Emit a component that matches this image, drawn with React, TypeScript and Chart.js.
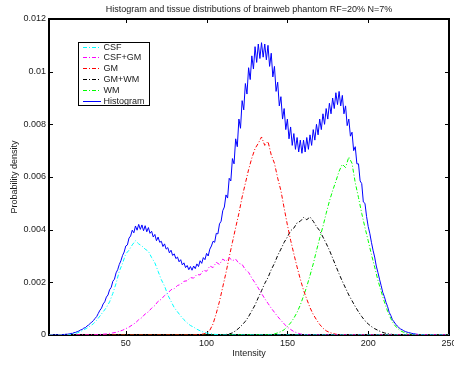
import React, { useEffect, useRef } from "react";
import { Chart, registerables } from "chart.js";

Chart.register(...registerables);

const TITLE = "Histogram and tissue distributions of brainweb phantom RF=20% N=7%";
const X_TITLE = "Intensity";
const Y_TITLE = "Probability density";

const X_MIN = 2.5;
const X_MAX = 250;
const X_TICKS = [50, 100, 150, 200, 250];
const X_TICK_LABELS = ["50", "100", "150", "200", "250"];
const Y_TICKS = [0, 0.002, 0.004, 0.006, 0.008, 0.01, 0.012];
const Y_TICK_LABELS = ["0", "0.002", "0.004", "0.006", "0.008", "0.01", "0.012"];

// Histogram: one value per intensity, starting at HIST_START
const HIST_START = 3;
const histogram = [
  0, 0, 0, 0, 0.00001, 0, 0.00001, 0.00001, 0.00002, 0.00002,
  0.00003, 0.00003, 0.00004, 0.00006, 0.00006, 0.00009, 0.0001, 0.00013, 0.00015, 0.00019,
  0.00021, 0.00026, 0.00028, 0.00034, 0.00038, 0.00044, 0.00049, 0.00055, 0.00063, 0.0007,
  0.00082, 0.00094, 0.00102, 0.00118, 0.00126, 0.00144, 0.00152, 0.00172, 0.00181, 0.00204,
  0.00212, 0.00236, 0.00248, 0.00268, 0.00282, 0.00302, 0.00315, 0.00338, 0.00342, 0.00368,
  0.00376, 0.00398, 0.00388, 0.00414, 0.00398, 0.0042, 0.00401, 0.00418, 0.00396, 0.00415,
  0.00392, 0.00408, 0.00386, 0.00394, 0.00372, 0.00382, 0.00358, 0.00372, 0.00352, 0.00356,
  0.00336, 0.00346, 0.00326, 0.00332, 0.00312, 0.00322, 0.00302, 0.00308, 0.0029, 0.00296,
  0.00278, 0.00286, 0.00266, 0.00274, 0.00256, 0.00264, 0.00248, 0.0026, 0.00246, 0.00262,
  0.00252, 0.0027, 0.0026, 0.00282, 0.00272, 0.00294, 0.00286, 0.0031, 0.003, 0.00326,
  0.00338, 0.00356, 0.00352, 0.00386, 0.00384, 0.00422, 0.00432, 0.00472, 0.00486, 0.00532,
  0.0052, 0.00595, 0.00585, 0.0067, 0.0065, 0.00745, 0.00715, 0.0082, 0.00785, 0.0089,
  0.00855, 0.00955, 0.00915, 0.01015, 0.0097, 0.0106, 0.0101, 0.01095, 0.01035, 0.01105,
  0.0105, 0.0111, 0.01055, 0.01105, 0.01045, 0.011, 0.0102, 0.0107, 0.0098, 0.0102,
  0.00925, 0.0096, 0.0087, 0.00905, 0.0082, 0.0086, 0.0078, 0.0082, 0.00745, 0.0079,
  0.0072, 0.00765, 0.00705, 0.0075, 0.00695, 0.0074, 0.0069, 0.0074, 0.00695, 0.0075,
  0.00705, 0.0076, 0.0072, 0.0078, 0.0074, 0.008, 0.0076, 0.0082, 0.0078, 0.0084,
  0.008, 0.0086, 0.0082, 0.0088, 0.0084, 0.009, 0.0086, 0.0092, 0.00875, 0.00925,
  0.0087, 0.0091, 0.0084, 0.0087, 0.00795, 0.0082, 0.00755, 0.0077, 0.007, 0.00715,
  0.0065, 0.0065, 0.00585, 0.00575, 0.00505, 0.005, 0.0045, 0.00412, 0.00386, 0.00352,
  0.00322, 0.00296, 0.00262, 0.00238, 0.00212, 0.00188, 0.00162, 0.00146, 0.00124, 0.00108,
  0.00086, 0.00074, 0.00058, 0.0005, 0.00041, 0.00034, 0.00028, 0.00023, 0.0002, 0.00016,
  0.00013, 0.00011, 0.00009, 0.00008, 0.00006, 0.00005, 0.00004, 0.00003, 0.00002, 0.00002,
  0.00001, 0.00001, 0.00001, 0.00001, 0, 0.00001, 0, 0, 0, 0,
  0, 0, 0, 0, 0, 0, 0, 0,
];

// Tissue distributions: sampled every COMPONENT_STEP intensities from their start value,
// zero outside the listed range
const COMPONENT_STEP = 2;

const csfStart = 14;
const csf = [
  0, 0.00002, 0.00005, 0.00008, 0.00013, 0.0002, 0.00026, 0.00034, 0.00043, 0.00056,
  0.00072, 0.00088, 0.00104, 0.00126, 0.00158, 0.00196, 0.00242, 0.00272, 0.00308, 0.00322,
  0.00342, 0.00358, 0.00346, 0.00338, 0.00326, 0.00318, 0.00294, 0.00274, 0.00242, 0.0021,
  0.00186, 0.00152, 0.00128, 0.00104, 0.00088, 0.00072, 0.00058, 0.00046, 0.00036, 0.0003,
  0.00022, 0.00016, 0.00011, 0.00008, 0.00006, 0.00003, 0.00002, 0.00001, 0,
];

const csfGmStart = 30;
const csfGm = [
  0, 0.00001, 0.00002, 0.00003, 0.00004, 0.00006, 0.00008, 0.0001, 0.00014, 0.00018,
  0.00024, 0.0003, 0.00038, 0.00046, 0.00058, 0.00066, 0.0008, 0.00088, 0.00102, 0.00112,
  0.00128, 0.00136, 0.0015, 0.00158, 0.00172, 0.00176, 0.00188, 0.00192, 0.00204, 0.00206,
  0.00218, 0.00216, 0.0023, 0.00228, 0.00246, 0.00242, 0.00262, 0.00256, 0.00276, 0.00268,
  0.00288, 0.0028, 0.00294, 0.00282, 0.00288, 0.00272, 0.00268, 0.00248, 0.00238, 0.00216,
  0.00198, 0.00178, 0.00158, 0.00138, 0.0012, 0.00102, 0.00086, 0.0007, 0.00056, 0.00042,
  0.0003, 0.00021, 0.00013, 0.00008, 0.00004, 0.00002, 0.00001, 0,
];

const gmStart = 92;
const gm = [
  0, 0.00001, 0.00002, 0.00004, 0.00008, 0.00018, 0.00042, 0.00082, 0.00128, 0.00182,
  0.00236, 0.00296, 0.00352, 0.00408, 0.00462, 0.00524, 0.00576, 0.00628, 0.00672, 0.00708,
  0.00728, 0.00752, 0.0072, 0.00735, 0.00684, 0.00652, 0.00596, 0.00548, 0.00482, 0.00418,
  0.0036, 0.00308, 0.00258, 0.00212, 0.0017, 0.00136, 0.00104, 0.00078, 0.00058, 0.0004,
  0.00026, 0.00016, 0.0001, 0.00006, 0.00003, 0.00001, 0,
];

const gmWmStart = 108;
const gmWm = [
  0, 0.00001, 0.00002, 0.00004, 0.00008, 0.00016, 0.00026, 0.00038, 0.00052, 0.0007,
  0.00092, 0.00114, 0.00142, 0.00168, 0.00196, 0.00218, 0.00248, 0.00272, 0.00302, 0.00326,
  0.00352, 0.00372, 0.00396, 0.00406, 0.00426, 0.00432, 0.00446, 0.00438, 0.00448, 0.00432,
  0.00412, 0.00396, 0.00372, 0.00348, 0.00322, 0.00292, 0.00262, 0.00232, 0.00204, 0.00178,
  0.00152, 0.0013, 0.00108, 0.00088, 0.0007, 0.00054, 0.00042, 0.00032, 0.00024, 0.00018,
  0.00012, 0.00008, 0.00005, 0.00003, 0.00001, 0,
];

const wmStart = 138;
const wm = [
  0, 0.00002, 0.00004, 0.00008, 0.00013, 0.0002, 0.00032, 0.00046, 0.00064, 0.00086,
  0.00114, 0.00148, 0.00184, 0.00226, 0.0027, 0.0032, 0.00368, 0.00412, 0.00462, 0.00508,
  0.00548, 0.00584, 0.00622, 0.00648, 0.00636, 0.00676, 0.00652, 0.00578, 0.00522, 0.00462,
  0.00408, 0.00358, 0.00306, 0.00258, 0.00208, 0.00166, 0.00126, 0.0009, 0.00062, 0.0004,
  0.00026, 0.00016, 0.0001, 0.00006, 0.00003, 0.00001, 0,
];

const FONT = '"Liberation Sans", Arial, Helvetica, sans-serif';
const TEXT_COLOR = "#1a1a1a";
const DASH_DOT = [4, 2, 1, 2];

function componentPoints(start: number, values: number[]) {
  const pts = values.map((y, i) => ({ x: start + i * COMPONENT_STEP, y }));
  return [{ x: X_MIN, y: 0 }, ...pts, { x: X_MAX, y: 0 }];
}

// MATLAB-style box with inward tick marks on all four sides
const axesBox = {
  id: "axesBox",
  beforeDatasetsDraw(chart: any) {
    const { ctx, chartArea: a, scales } = chart;
    const len = 4;
    ctx.save();
    ctx.strokeStyle = "#000";
    ctx.lineWidth = 1;
    ctx.beginPath();
    for (const t of scales.x.ticks) {
      const px = Math.round(scales.x.getPixelForValue(t.value)) + 0.5;
      ctx.moveTo(px, a.bottom);
      ctx.lineTo(px, a.bottom - len);
      ctx.moveTo(px, a.top);
      ctx.lineTo(px, a.top + len);
    }
    for (const t of scales.y.ticks) {
      const py = Math.round(scales.y.getPixelForValue(t.value)) + 0.5;
      ctx.moveTo(a.left, py);
      ctx.lineTo(a.left + len, py);
      ctx.moveTo(a.right, py);
      ctx.lineTo(a.right - len, py);
    }
    ctx.stroke();
    ctx.lineWidth = 2;
    ctx.strokeRect(a.left, a.top, a.right - a.left, a.bottom - a.top);
    ctx.restore();
  },
};

// Legend drawn as a framed box inside the plot area
const boxedLegend = {
  id: "boxedLegend",
  afterDatasetsDraw(chart: any) {
    const { ctx, chartArea: a } = chart;
    const left = a.left + 29;
    const top = a.top + 23;
    const w = 71;
    const h = 63;
    const row = 10.85;
    ctx.save();
    ctx.fillStyle = "#fff";
    ctx.fillRect(left, top, w, h);
    ctx.strokeStyle = "#000";
    ctx.lineWidth = 1;
    ctx.strokeRect(left + 0.5, top + 0.5, w, h);
    ctx.font = `9px ${FONT}`;
    ctx.textBaseline = "middle";
    ctx.textAlign = "left";
    chart.data.datasets.forEach((ds: any, i: number) => {
      const y = Math.round(top + 4.5 + i * row) + 0.5;
      ctx.setLineDash(ds.borderDash || []);
      ctx.strokeStyle = ds.borderColor;
      ctx.lineWidth = 1;
      ctx.beginPath();
      ctx.moveTo(left + 5, y);
      ctx.lineTo(left + 23, y);
      ctx.stroke();
      ctx.setLineDash([]);
      ctx.fillStyle = TEXT_COLOR;
      ctx.fillText(ds.label, left + 25.5, y);
    });
    ctx.restore();
  },
};

export default function App() {
  const canvasRef = useRef<HTMLCanvasElement | null>(null);

  useEffect(() => {
    const canvas = canvasRef.current;
    if (!canvas) return;

    const line = (label: string, color: string, data: any[], dash: number[]) => ({
      label,
      data,
      borderColor: color,
      backgroundColor: color,
      borderWidth: 1,
      borderDash: dash,
      pointRadius: 0,
      tension: 0,
      fill: false,
    });

    const chart = new Chart(canvas, {
      type: "line",
      data: {
        datasets: [
          line("CSF", "#00ffff", componentPoints(csfStart, csf), DASH_DOT),
          line("CSF+GM", "#ff00ff", componentPoints(csfGmStart, csfGm), DASH_DOT),
          line("GM", "#ff0000", componentPoints(gmStart, gm), DASH_DOT),
          line("GM+WM", "#000000", componentPoints(gmWmStart, gmWm), DASH_DOT),
          line("WM", "#00ff00", componentPoints(wmStart, wm), DASH_DOT),
          line(
            "Histogram",
            "#0000ff",
            histogram.map((y, i) => ({ x: HIST_START + i, y })),
            []
          ),
        ],
      },
      options: {
        responsive: false,
        animation: false,
        events: [],
        layout: { padding: { left: 0, right: 5, top: 0, bottom: 0 } },
        plugins: {
          legend: { display: false },
          tooltip: { enabled: false },
          title: {
            display: true,
            text: TITLE,
            fullSize: false,
            color: TEXT_COLOR,
            font: { family: FONT, size: 9, weight: "normal" },
            padding: { top: 4, bottom: 4.2 },
          },
        },
        scales: {
          x: {
            type: "linear",
            min: X_MIN,
            max: X_MAX,
            grid: { display: false, drawTicks: false },
            border: { display: false },
            afterBuildTicks: (s: any) => {
              s.ticks = X_TICKS.map((v) => ({ value: v }));
            },
            ticks: {
              autoSkip: false,
              maxRotation: 0,
              padding: 3,
              color: TEXT_COLOR,
              font: { family: FONT, size: 9 },
              callback: (_v: any, i: number) => X_TICK_LABELS[i],
            },
            title: {
              display: true,
              text: X_TITLE,
              color: TEXT_COLOR,
              font: { family: FONT, size: 9 },
              padding: { top: 0, bottom: 6 },
            },
            afterFit: (s: any) => {
              s.height = 30;
              s.paddingLeft = 0;
              s.paddingRight = 0;
            },
          },
          y: {
            type: "linear",
            min: 0,
            max: 0.012,
            grid: { display: false, drawTicks: false },
            border: { display: false },
            afterBuildTicks: (s: any) => {
              s.ticks = Y_TICKS.map((v) => ({ value: v }));
            },
            ticks: {
              padding: 3,
              color: TEXT_COLOR,
              font: { family: FONT, size: 9 },
              callback: (_v: any, i: number) => Y_TICK_LABELS[i],
            },
            title: {
              display: true,
              text: Y_TITLE,
              color: TEXT_COLOR,
              font: { family: FONT, size: 9 },
              padding: { top: 9.5, bottom: 0 },
            },
            afterFit: (s: any) => {
              s.width = 49;
              s.paddingTop = 0;
              s.paddingBottom = 0;
            },
          },
        },
      },
      plugins: [axesBox, boxedLegend],
    } as any);

    return () => chart.destroy();
  }, []);

  return (
    <div style={{ position: "fixed", left: 0, top: 0, width: 454, height: 365, background: "#fff" }}>
      <canvas ref={canvasRef} width={454} height={365} style={{ display: "block" }} />
    </div>
  );
}
